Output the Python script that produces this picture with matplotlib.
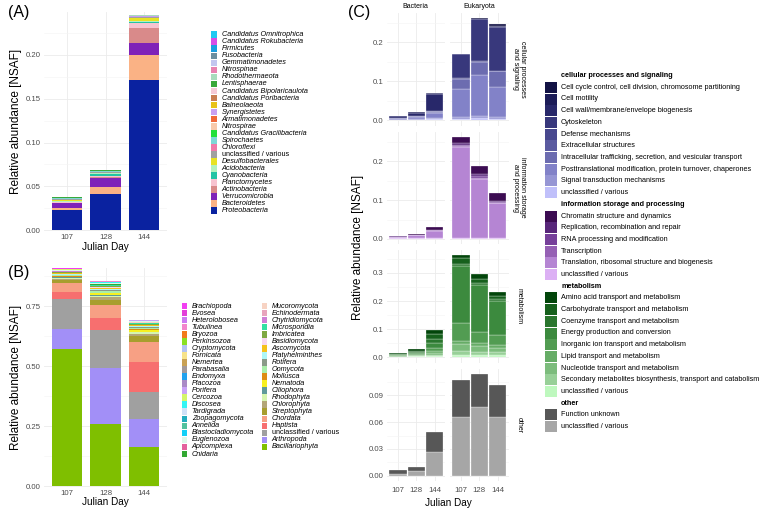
import matplotlib
matplotlib.use('Agg')
import matplotlib.pyplot as plt
from matplotlib.patches import Rectangle
from matplotlib.ticker import MultipleLocator, FormatStrFormatter
import numpy as np

plt.rcParams['font.family'] = ['Liberation Sans', 'DejaVu Sans']

W, H = 764, 512
days = ['107', '128', '144']

# ---------------- (A) bacterial phyla, listed bottom of the stack -> top
phyla_a = ['Proteobacteria', 'Bacteroidetes', 'Verrucomicrobia', 'Actinobacteria', 'Planctomycetes',
           'Cyanobacteria', 'Acidobacteria', 'Desulfobacterales', 'unclassified / various', 'Chloroflexi',
           'Spirochaetes', 'Candidatus Gracilibacteria', 'Nitrospirae', 'Armatimonadetes', 'Synergistetes',
           'Balneolaeota', 'Candidatus Poribacteria', 'Candidatus Bipolaricaulota', 'Lentisphaerae',
           'Rhodothermaeota', 'Nitrospinae', 'Gemmatimonadetes', 'Fusobacteria', 'Firmicutes',
           'Candidatus Rokubacteria', 'Candidatus Omnitrophica']
colors_a = ['#0a22a0', '#fab285', '#7f22b8', '#d98a8a', '#f7c3d0', '#22c4a4', '#b3f2bd', '#e8e222',
            '#a0a0a0', '#f07aa8', '#7dd8d6', '#22e03a', '#f8c9aa', '#f0683a', '#c9a0f2', '#e8c21a',
            '#c97d52', '#f5cad6', '#3aa83a', '#a8dcbc', '#e882b0', '#c2c6ef', '#6c8fa0', '#1a9ee0',
            '#d64ee6', '#1ec9f2']
nsaf_a_107 = [0.0225, 0.0030, 0.0050, 0.0007, 0.0006, 0.0008, 0.0012, 0.0005, 0.0015, 0.0002, 0.0002,
              0.0001, 0.0002, 0.0001, 0.0002, 0.0002, 0.0001, 0.0001, 0.0001, 0.0002, 0.0001, 0.0002,
              0.0001, 0.0001, 0.0001, 0.0001]
nsaf_a_128 = [0.0415, 0.0080, 0.0105, 0.0008, 0.0008, 0.0025, 0.0008, 0.0005, 0.0010, 0.0003, 0.0003,
              0.0001, 0.0002, 0.0001, 0.0002, 0.0002, 0.0001, 0.0001, 0.0001, 0.0002, 0.0001, 0.0002,
              0.0001, 0.0002, 0.0001, 0.0001]
nsaf_a_144 = [0.1710, 0.0290, 0.0137, 0.0173, 0.0056, 0.0008, 0.0018, 0.0028, 0.0008, 0.0003, 0.0002,
              0.0001, 0.0003, 0.0001, 0.0004, 0.0004, 0.0001, 0.0001, 0.0001, 0.0002, 0.0001, 0.0004,
              0.0001, 0.0002, 0.0001, 0.0001]

# ---------------- (B) eukaryotic phyla, bottom -> top
phyla_b = ['Bacillariophyta', 'Arthropoda', 'unclassified / various', 'Haptista', 'Chordata', 'Streptophyta',
           'Chlorophyta', 'Rhodophyta', 'Ciliophora', 'Nematoda', 'Mollusca', 'Oomycota', 'Rotifera',
           'Platyhelminthes', 'Ascomycota', 'Basidiomycota', 'Imbricatea', 'Microsporidia', 'Chytridiomycota',
           'Echinodermata', 'Mucoromycota', 'Cnidaria', 'Apicomplexa', 'Euglenozoa', 'Blastocladiomycota',
           'Annelida', 'Zoopagomycota', 'Tardigrada', 'Discosea', 'Cercozoa', 'Porifera', 'Placozoa',
           'Endomyxa', 'Parabasalia', 'Nemertea', 'Fornicata', 'Cryptomycota', 'Perkinsozoa', 'Bryozoa',
           'Tubulinea', 'Heterolobosea', 'Evosea', 'Brachiopoda']
colors_b = ['#7fbf00', '#a28ff7', '#a0a0a0', '#f76f6f', '#f7a084', '#a89e2e', '#b3a677', '#d6f5b0',
            '#5f9a9a', '#f7f020', '#de8c12', '#a9eea9', '#8a9a88', '#aef7f7', '#f5c11b', '#f7d7ef',
            '#7fa842', '#33e0a2', '#cf7fd6', '#e8a4bd', '#f7d3c3', '#33a833', '#e3619c', '#dcf7e8',
            '#12d0f7', '#52c29e', '#22adbf', '#cfe1f7', '#33f5f5', '#d4f56b', '#c9a3f7', '#a98ac6',
            '#22a2ee', '#a39a9a', '#c9a154', '#f7e38a', '#b3c3f2', '#8ae022', '#f27a1b', '#f285cc',
            '#cc7af2', '#e33fd9', '#f23ff2']
nsaf_b_107 = [0.570, 0.087, 0.125, 0.028, 0.037, 0.013, 0.004, 0.004, 0.003, 0.003, 0.002, 0.004, 0.002,
              0.005, 0.002, 0.001, 0.003, 0.002, 0.001, 0.001, 0.001, 0.001, 0.0005, 0.001, 0.0003, 0.001,
              0.0003, 0.0005, 0.0005, 0.001, 0.0005, 0.0003, 0.0003, 0.0003, 0.0003, 0.0003, 0.0003,
              0.0003, 0.0003, 0.0003, 0.0003, 0.0003, 0.0003]
nsaf_b_128 = [0.257, 0.236, 0.160, 0.050, 0.051, 0.021, 0.012, 0.006, 0.005, 0.006, 0.003, 0.006, 0.004,
              0.005, 0.005, 0.002, 0.005, 0.003, 0.001, 0.001, 0.002, 0.002, 0.001, 0.002, 0.0003, 0.002,
              0.0003, 0.0005, 0.0005, 0.001, 0.0005, 0.0003, 0.0003, 0.0003, 0.0003, 0.0003, 0.0003,
              0.0003, 0.0003, 0.0003, 0.0003, 0.0003, 0.0003]
nsaf_b_144 = [0.161, 0.117, 0.114, 0.126, 0.083, 0.025, 0.007, 0.008, 0.003, 0.006, 0.004, 0.005, 0.003,
              0.005, 0.004, 0.002, 0.004, 0.003, 0.001, 0.001, 0.002, 0.001, 0.001, 0.001, 0.0003, 0.001,
              0.0003, 0.0005, 0.0005, 0.001, 0.0005, 0.0003, 0.0003, 0.0003, 0.0003, 0.0003, 0.0003,
              0.0003, 0.0003, 0.0003, 0.0003, 0.0003, 0.0003]

# ---------------- (C) COG categories, bottom -> top; value tuples are (107, 128, 144)
cps_names = ['unclassified / various', 'Signal transduction mechanisms',
             'Posttranslational modification, protein turnover, chaperones',
             'Intracellular trafficking, secretion, and vesicular transport', 'Extracellular structures',
             'Defense mechanisms', 'Cytoskeleton', 'Cell wall/membrane/envelope biogenesis', 'Cell motility',
             'Cell cycle control, cell division, chromosome partitioning']
cps_colors = ['#c0c0fa', '#9696d4', '#8282c8', '#6c6cb0', '#5a5aa0', '#48488e', '#38387c', '#28286a',
              '#1c1c58', '#121244']
cps_bact = [(0.001, 0.002, 0.003), (0.001, 0.002, 0.003), (0.002, 0.004, 0.012), (0.001, 0.002, 0.004),
            (0, 0, 0.001), (0.001, 0.001, 0.002), (0, 0, 0), (0.005, 0.009, 0.042), (0.001, 0.001, 0.002),
            (0, 0, 0.001)]
cps_euk = [(0.004, 0.005, 0.004), (0.004, 0.006, 0.004), (0.072, 0.104, 0.078), (0.027, 0.035, 0.040),
           (0, 0, 0), (0.001, 0.001, 0.001), (0.062, 0.110, 0.113), (0, 0, 0), (0, 0, 0.002),
           (0.001, 0.001, 0.005)]

isp_names = ['unclassified / various', 'Translation, ribosomal structure and biogenesis', 'Transcription',
             'RNA processing and modification', 'Replication, recombination and repair',
             'Chromatin structure and dynamics']
isp_colors = ['#dcb0f4', '#b585d3', '#9560b4', '#76409a', '#58267a', '#3c0c52']
isp_bact = [(0.001, 0.001, 0.002), (0.004, 0.008, 0.019), (0.001, 0.001, 0.001), (0, 0, 0),
            (0.001, 0.001, 0.002), (0.001, 0.002, 0.007)]
isp_euk = [(0.002, 0.002, 0.002), (0.236, 0.153, 0.090), (0.003, 0.002, 0.001), (0.002, 0.005, 0.001),
           (0.004, 0.005, 0.003), (0.017, 0.020, 0.021)]

met_names = ['unclassified / various', 'Secondary metabolites biosynthesis, transport and catabolism',
             'Nucleotide transport and metabolism', 'Lipid transport and metabolism',
             'Inorganic ion transport and metabolism', 'Energy production and conversion',
             'Coenzyme transport and metabolism', 'Carbohydrate transport and metabolism',
             'Amino acid transport and metabolism']
met_colors = ['#bef8be', '#98d098', '#7cbc7c', '#66ac66', '#529c52', '#3c8a3e', '#2a762e', '#16601c',
              '#02450a']
met_bact = [(0.002, 0.004, 0.006), (0.001, 0.002, 0.004), (0.002, 0.003, 0.007), (0.001, 0.001, 0.005),
            (0.001, 0.002, 0.010), (0.003, 0.005, 0.020), (0.001, 0.003, 0.012), (0.002, 0.004, 0.020),
            (0.002, 0.004, 0.014)]
met_euk = [(0.010, 0.010, 0.008), (0.012, 0.010, 0.010), (0.024, 0.020, 0.016), (0.012, 0.010, 0.010),
           (0.065, 0.0385, 0.036), (0.202, 0.170, 0.121), (0.008, 0.005, 0.005), (0.018, 0.015, 0.012),
           (0.012, 0.0185, 0.014)]

oth_names = ['unclassified / various', 'Function unknown']
oth_colors = ['#a6a6a6', '#575757']
oth_bact = [(0.0018, 0.006, 0.0266), (0.0048, 0.004, 0.0224)]
oth_euk = [(0.066, 0.077, 0.0656), (0.0405, 0.037, 0.0354)]

fig = plt.figure(figsize=(W / 100, H / 100), dpi=100)

TICK = dict(labelsize=5.6, labelcolor='#4d4d4d')
YTITLE = 8.5   # vertical axis titles
XTITLE = 7.2


def px_axes(left, top, right, bottom):
    return fig.add_axes([left / W, 1 - bottom / H, (right - left) / W, (bottom - top) / H])


def stack(ax, series, colors, width, edge='none', lw=0.0):
    x = np.arange(len(days))
    base = np.zeros(len(days))
    for vals, col in zip(series, colors):
        vals = np.asarray(vals, dtype=float)
        keep = vals > 0
        ax.bar(x[keep], vals[keep], width, bottom=base[keep], color=col, edgecolor=edge, linewidth=lw)
        base += vals
    return base


def minimal(ax, step, fmt):
    ax.set_xlim(-0.6, 2.6)
    ax.set_xticks(range(len(days)))
    ax.set_xticklabels(days)
    ax.yaxis.set_major_locator(MultipleLocator(step))
    ax.yaxis.set_minor_locator(MultipleLocator(step / 2))
    ax.yaxis.set_major_formatter(FormatStrFormatter(fmt))
    ax.grid(which='major', color='#ebebeb', lw=0.6)
    ax.grid(which='minor', axis='y', color='#f4f4f4', lw=0.4)
    ax.set_axisbelow(True)
    for sp in ax.spines.values():
        sp.set_visible(False)
    ax.tick_params(which='both', length=0, pad=2.5, **TICK)


# ---- panel A
axA = px_axes(44, 12, 167, 231)
stack(axA, zip(nsaf_a_107, nsaf_a_128, nsaf_a_144), colors_a, 0.8)
minimal(axA, 0.05, '%.2f')
axA.set_ylim(-0.001, 0.249)

# ---- panel B
axB = px_axes(44, 268, 167, 487)
stack(axB, zip(nsaf_b_107, nsaf_b_128, nsaf_b_144), colors_b, 0.8)
minimal(axB, 0.25, '%.2f')
axB.set_ylim(-0.004, 0.91)

fig.text(16 / W, 1 - 121 / H, 'Relative abundance [NSAF]', rotation=90, ha='center', va='center', fontsize=YTITLE)
fig.text(16 / W, 1 - 377 / H, 'Relative abundance [NSAF]', rotation=90, ha='center', va='center', fontsize=YTITLE)
fig.text(105 / W, 1 - 247 / H, 'Julian Day', ha='center', va='center', fontsize=XTITLE)
fig.text(105 / W, 1 - 502 / H, 'Julian Day', ha='center', va='center', fontsize=XTITLE)

# ---- panel C (facet grid)
rows = [('cellular processes\nand signaling', cps_bact, cps_euk, cps_colors, 0.1, '%.1f'),
        ('information storage\nand processing', isp_bact, isp_euk, isp_colors, 0.1, '%.1f'),
        ('metabolism', met_bact, met_euk, met_colors, 0.1, '%.1f'),
        ('other', oth_bact, oth_euk, oth_colors, 0.03, '%.2f')]
row_top = [13, 131.5, 250, 368.5]
row_h = 112.5
cols = [(387, 445.5), (450, 508.5)]

for r, (strip, bact, euk, cols_c, step, fmt) in enumerate(rows):
    top = row_top[r]
    axes_row = []
    ymax = 0
    for c, data in enumerate((bact, euk)):
        ax = px_axes(cols[c][0], top, cols[c][1], top + row_h)
        tot = stack(ax, data, cols_c, 0.95, edge='white', lw=0.2)
        ymax = max(ymax, tot.max())
        minimal(ax, step, fmt)
        if c == 1:
            ax.tick_params(labelleft=False)
        if r < 3:
            ax.tick_params(labelbottom=False)
        else:
            ax.tick_params(axis='x', pad=4.5)
        axes_row.append(ax)
    for ax in axes_row:
        ax.set_ylim(-0.05 * ymax, 1.05 * ymax)
    fig.text(519 / W, 1 - (top + row_h / 2) / H, strip, rotation=-90, ha='center', va='center',
             fontsize=5.0, linespacing=1.0)

fig.text(415 / W, 1 - 7 / H, 'Bacteria', ha='center', va='center', fontsize=5.0)
fig.text(479 / W, 1 - 7 / H, 'Eukaryota', ha='center', va='center', fontsize=5.0)
fig.text(358 / W, 1 - 247 / H, 'Relative abundance [NSAF]', rotation=90, ha='center', va='center', fontsize=YTITLE)
fig.text(448 / W, 1 - 503 / H, 'Julian Day', ha='center', va='center', fontsize=XTITLE)

# panel tags
for tag, x, y in (('(A)', 8, 13), ('(B)', 8, 272), ('(C)', 348, 13)):
    fig.text(x / W, 1 - y / H, tag, ha='left', va='center', fontsize=11.5)

# ---- legends drawn in pixel space
leg = fig.add_axes([0, 0, 1, 1])
leg.set_xlim(0, W)
leg.set_ylim(H, 0)
leg.axis('off')
leg.patch.set_alpha(0)


def legend_block(x, y0, step, kw, kh, dx, entries):
    for i, (label, col, weight) in enumerate(entries):
        yc = y0 + i * step
        if col is not None:
            leg.add_patch(Rectangle((x, yc - kh / 2), kw, kh, facecolor=col, edgecolor='none'))
        style = 'italic' if weight == 'italic' else 'normal'
        fw = 'bold' if weight == 'bold' else 'normal'
        leg.text(x + dx, yc, label, ha='left', va='center', fontsize=5.2, fontstyle=style, fontweight=fw)


def taxa_entries(names, colors):
    out = []
    for n, c in zip(names[::-1], colors[::-1]):
        out.append((n, c, 'normal' if n.startswith('unclassified') else 'italic'))
    return out


legend_block(210.7, 34.7, 7.04, 6, 6.6, 11, taxa_entries(phyla_a, colors_a))
ent_b = taxa_entries(phyla_b, colors_b)
legend_block(181.7, 306, 7.05, 5.5, 6.6, 10, ent_b[:22])
legend_block(261.7, 306, 7.05, 5.5, 6.6, 10, ent_b[22:])

ent_c = []
for head, names, colors in (('cellular processes and signaling', cps_names, cps_colors),
                            ('information storage and processing', isp_names, isp_colors),
                            ('metabolism', met_names, met_colors),
                            ('other', oth_names, oth_colors)):
    ent_c.append((head, None, 'bold'))
    ent_c += [(n, c, 'normal') for n, c in zip(names[::-1], colors[::-1])]
legend_block(545, 75.6, 11.7, 11.7, 11.0, 16, ent_c)

fig.savefig('out.png', dpi=100)
